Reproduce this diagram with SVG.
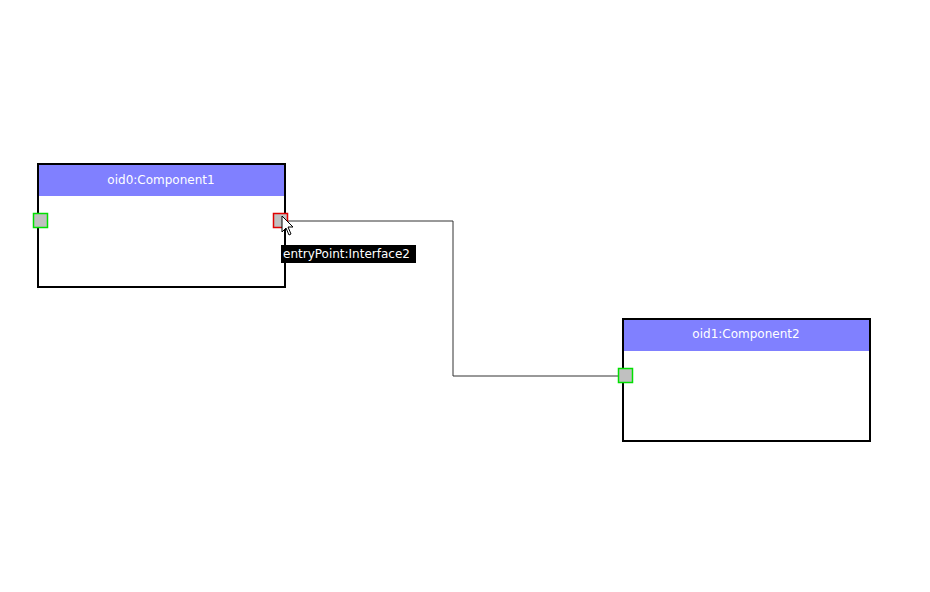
<svg xmlns="http://www.w3.org/2000/svg" width="930" height="592" viewBox="0 0 930 592">
<style>
.box{fill:#fff;stroke:#000;stroke-width:2}
.hdr{fill:#8080ff}
.title{font-family:"DejaVu Sans",sans-serif;font-size:12px;fill:#fff;text-anchor:middle}
.port{fill:#c0c0c0;stroke:#00e000;stroke-width:1.5}
.portsel{fill:#c0c0c0;stroke:#e00000;stroke-width:1.5}
.tip{font-family:"DejaVu Sans",sans-serif;font-size:12px;fill:#fff}
</style>
<defs>
<marker id="arr" viewBox="0 0 10 10" refX="10" refY="5" markerWidth="10" markerHeight="10" markerUnits="userSpaceOnUse" orient="auto">
<path d="M0,1 L10,5 L0,9 Z" fill="#333"/>
</marker>
</defs>
<rect width="930" height="592" fill="#fff"/>
<g id="connectors">
<polyline points="288,221 453,221 453,376 628,376" fill="none" stroke="#333" stroke-width="1" marker-end="url(#arr)"/>
</g>
<g id="oid0">
<rect class="box" x="38" y="164" width="247" height="123"/>
<rect class="hdr" x="39" y="165" width="245" height="31"/>
<text class="title" x="161" y="184">oid0:Component1</text>
<rect class="port" x="33.5" y="213.5" width="14" height="14"/>
<rect class="portsel" x="273.5" y="213.5" width="14" height="14"/>
</g>
<g id="oid1">
<rect class="box" x="623" y="319" width="247" height="122"/>
<rect class="hdr" x="624" y="320" width="245" height="31"/>
<text class="title" x="746" y="338">oid1:Component2</text>
<rect class="port" x="618.5" y="368.5" width="14" height="14"/>
</g>
<g id="tooltip">
<rect x="281" y="245" width="135" height="18" fill="#000"/>
<text class="tip" x="283" y="258">entryPoint:Interface2</text>
<polygon points="282,216 282,232 286,228 289,235 291,234 288,227 293,227" fill="#fff" stroke="#000" stroke-width="1"/>
</g>
</svg>
